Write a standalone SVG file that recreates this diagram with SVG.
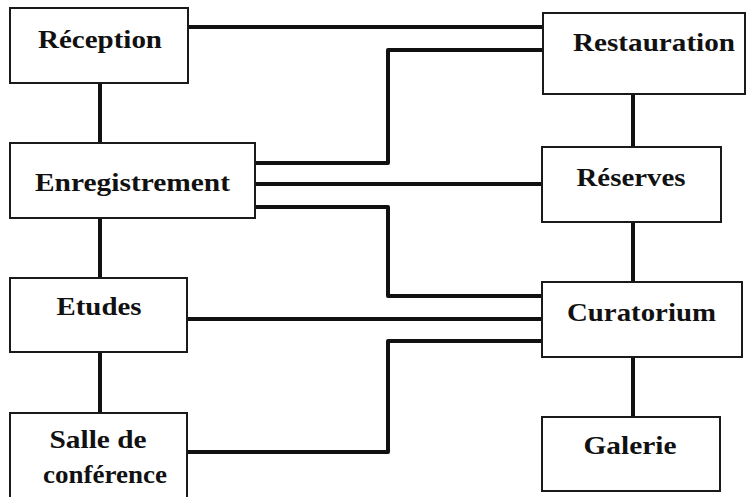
<svg xmlns="http://www.w3.org/2000/svg" width="754" height="497" viewBox="0 0 754 497">
<style>
.box{fill:#fff;stroke:#1a1a1a;stroke-width:2}
.lbl{font-family:"Liberation Serif","DejaVu Serif",serif;font-weight:bold;font-size:25px;fill:#111;text-anchor:middle}
.c{fill:none;stroke:#111;stroke-width:4;stroke-linejoin:round}
</style>
<rect width="754" height="497" fill="#fff"/>
<g id="connectors">
<path class="c" d="M188,27 H543"/>
<path class="c" d="M255,163 H388 V50 H543"/>
<path class="c" d="M255,184 H543"/>
<path class="c" d="M255,207 H388 V296 H543"/>
<path class="c" d="M187,319 H543"/>
<path class="c" d="M187,452 H388 V341 H543"/>
<path class="c" d="M100,83 V143"/>
<path class="c" d="M100,218 V278"/>
<path class="c" d="M100,352 V413"/>
<path class="c" d="M633,94 V147"/>
<path class="c" d="M633,222 V282"/>
<path class="c" d="M633,357 V417"/>
</g>
<g id="reception"><rect class="box" x="10" y="8" width="178" height="75"/><text class="lbl" x="100" y="48" textLength="124" lengthAdjust="spacingAndGlyphs">Réception</text></g>
<g id="enregistrement"><rect class="box" x="10" y="143" width="245" height="75"/><text class="lbl" x="132.5" y="191" textLength="195" lengthAdjust="spacingAndGlyphs">Enregistrement</text></g>
<g id="etudes"><rect class="box" x="10" y="278" width="177" height="74"/><text class="lbl" x="99" y="315" textLength="85" lengthAdjust="spacingAndGlyphs">Etudes</text></g>
<g id="salle"><rect class="box" x="10" y="413" width="177" height="90"/><text class="lbl" x="98" y="448" textLength="97" lengthAdjust="spacingAndGlyphs">Salle de</text><text class="lbl" x="105" y="483" textLength="124" lengthAdjust="spacingAndGlyphs">conférence</text></g>
<g id="restauration"><rect class="box" x="543" y="13" width="202" height="81"/><text class="lbl" x="654" y="51" textLength="162" lengthAdjust="spacingAndGlyphs">Restauration</text></g>
<g id="reserves"><rect class="box" x="542" y="147" width="179" height="75"/><text class="lbl" x="631" y="186" textLength="109" lengthAdjust="spacingAndGlyphs">Réserves</text></g>
<g id="curatorium"><rect class="box" x="542" y="282" width="200" height="75"/><text class="lbl" x="641.5" y="321" textLength="149" lengthAdjust="spacingAndGlyphs">Curatorium</text></g>
<g id="galerie"><rect class="box" x="542" y="417" width="178" height="74"/><text class="lbl" x="630" y="454" textLength="93" lengthAdjust="spacingAndGlyphs">Galerie</text></g>
</svg>
